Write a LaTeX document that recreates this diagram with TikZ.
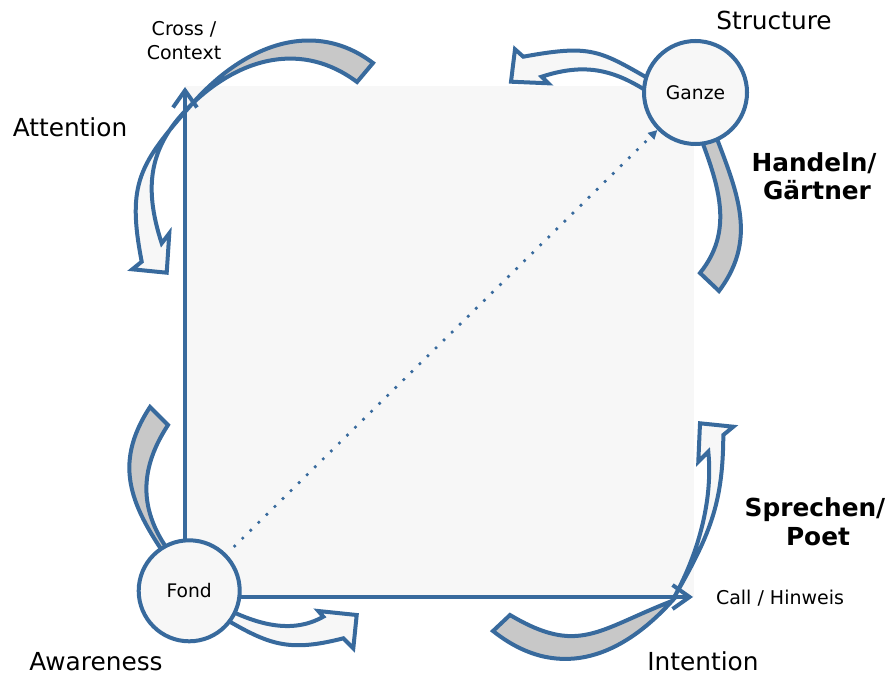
\documentclass[tikz,border=0pt]{standalone}
\usepackage{fontspec}
\setmainfont{DejaVu Sans}
\usetikzlibrary{arrows.meta}
\definecolor{edgeblue}{RGB}{56,106,157}
\definecolor{backgray}{RGB}{200,200,200}
\definecolor{paper}{RGB}{247,247,247}

\begin{document}
\begin{tikzpicture}[x=1pt,y=-1pt,
  ribbon/.style={draw=edgeblue, line width=4pt, fill=paper},
  ribbonback/.style={draw=edgeblue, line width=4pt, fill=backgray},
  axis/.style={draw=edgeblue, line width=4pt, -{Straight Barb[length=17pt,width=24pt]}},
  hub/.style={circle, draw=edgeblue, line width=4pt, fill=paper, inner sep=0pt,
    font=\fontsize{18.7}{22}\selectfont},
  big/.style={inner sep=0pt, font=\fontsize{24.8}{28}\selectfont},
  bigbold/.style={inner sep=0pt, font=\fontsize{24.8}{28}\selectfont\bfseries},
  small/.style={inner sep=0pt, font=\fontsize{19}{24}\selectfont},
  ]
\useasboundingbox (0,0) rectangle (893,676);

% square field
\fill[paper] (185,86) rectangle (694,597);

% top-left curved arrow: back face, then front face with head
\filldraw[ribbonback] (373,63) .. controls (312,17) and (242,47) .. (192,104)
  .. controls (241,57) and (302.6,41.2) .. (357,82) -- cycle;
\filldraw[ribbon] (192,104) .. controls (139.2,164) and (126.5,183.3) .. (141.7,261.7)
  -- (132.3,269.3) -- (166.7,272.7) -- (169.3,233.3) -- (161.7,243.3)
  .. controls (143.1,186.3) and (148.8,145.4) .. (192,104) -- cycle;

% top-right curved arrow
\filldraw[ribbonback] (694,120) .. controls (715,176.4) and (737.8,226.2) .. (700,273)
  -- (719,291) .. controls (761,235) and (733.8,185.8) .. (710,120) -- cycle;
\filldraw[ribbon] (665,88) .. controls (599.8,51.3) and (596.8,43.2) .. (523.3,56.7)
  -- (515,49.3) -- (511,81.7) -- (548.3,83.3) -- (541.7,76.7)
  .. controls (589.2,61.2) and (619,71) .. (660,100) -- cycle;

% bottom-left curved arrow
\filldraw[ribbonback] (172,565) .. controls (131.4,507.6) and (111.5,465.8) .. (150,407)
  -- (168,425) .. controls (135,475.4) and (140.4,520) .. (180,565) -- cycle;
\filldraw[ribbon] (215,603) .. controls (250.2,621.8) and (288.5,636.3) .. (323.3,616.7)
  -- (318.3,611) -- (356.7,615) -- (353.3,648.3) -- (343.3,638.3)
  .. controls (285.1,653.3) and (266.6,643.6) .. (215,613) -- cycle;

% bottom-right curved arrow
\filldraw[ribbonback] (493,631) .. controls (555.4,680.6) and (618.4,660.2) .. (672,601)
  .. controls (597.6,629.8) and (578.8,655.8) .. (510,615) -- cycle;
\filldraw[ribbon] (672,601) .. controls (709.5,535.8) and (723,505) .. (723.3,435)
  -- (733.3,426.7) -- (700,423.3) -- (698.3,461.7) -- (708.3,451.7)
  .. controls (713.3,501.7) and (697,557.5) .. (672,601) -- cycle;

% axes
\coordinate (origin) at (185,597);
\coordinate (ytip) at (185,87);
\coordinate (xtip) at (693,597);
\draw[axis] (origin) -- (ytip);
\draw[axis] (origin) -- (xtip);

% hubs
\node[hub, minimum size=101pt] (fond) at (189.2,590.8) {Fond};
\node[hub, minimum size=103pt] (ganze) at (695.5,92.5) {Ganze};

% diagonal
\draw[edgeblue, line width=2.6pt, dash pattern=on 2.6pt off 8.7pt, shorten <=10pt,
  -{Triangle[length=9pt,width=9pt]}] (fond) -- (ganze);

% labels
\node[small, anchor=base] (cross) at (184,36) {Cross /};
\node[small, anchor=base] (context) at (184,60) {Context};
\node[big, anchor=base] (attention) at (70,137) {Attention};
\node[big, anchor=base] (structure) at (774,30) {Structure};
\node[bigbold, anchor=base] (handeln) at (814,172) {Handeln/};
\node[bigbold, anchor=base] (gaertner) at (817,200) {Gärtner};
\node[bigbold, anchor=base] (sprechen) at (815,516) {Sprechen/};
\node[bigbold, anchor=base] (poet) at (818,545) {Poet};
\node[small, anchor=base] (call) at (780,604) {Call / Hinweis};
\node[big, anchor=base] (awareness) at (96,670) {Awareness};
\node[big, anchor=base] (intention) at (703,670) {Intention};
\end{tikzpicture}
\end{document}
